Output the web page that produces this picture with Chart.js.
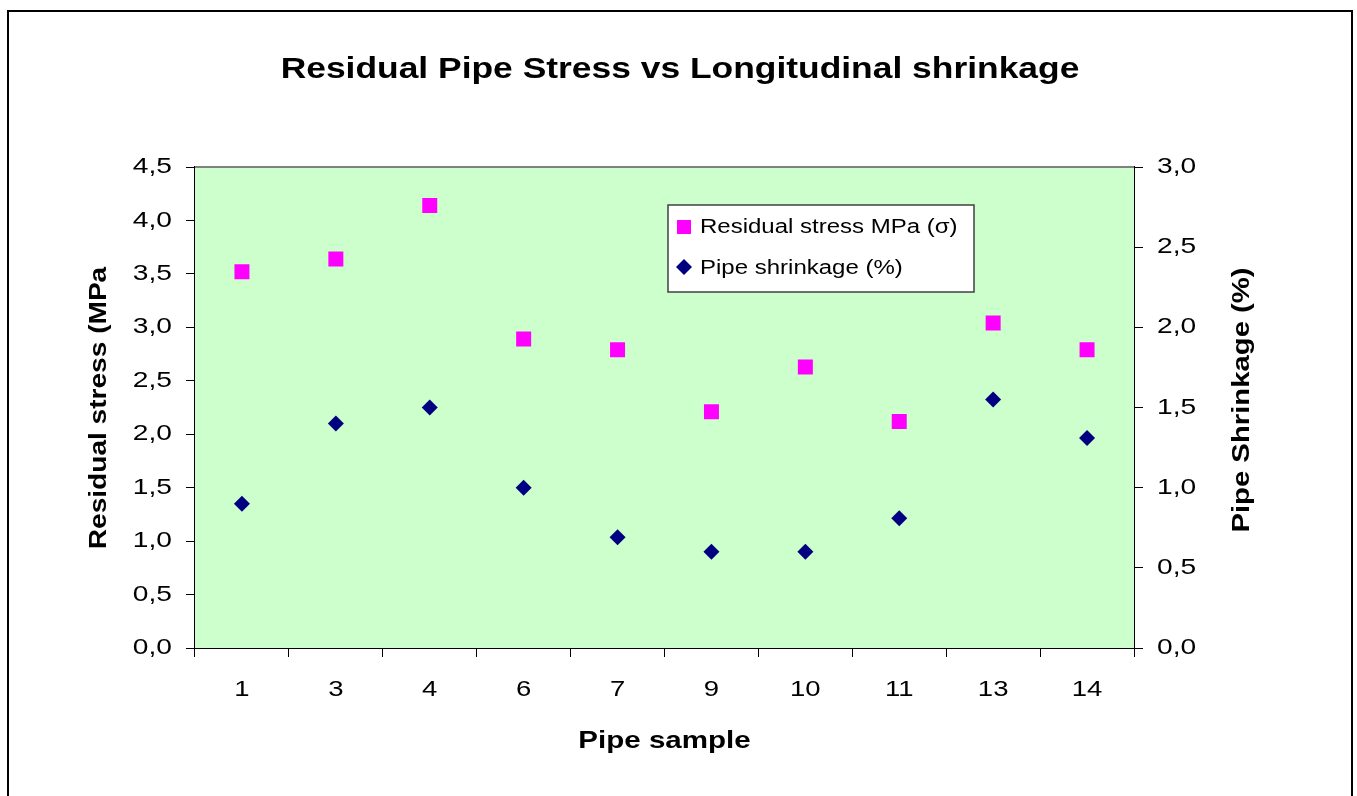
<!DOCTYPE html>
<html>
<head>
<meta charset="utf-8">
<script src="https://cdn.jsdelivr.net/npm/chart.js@4/dist/chart.umd.min.js"></script>
<style>
  html, body { margin: 0; padding: 0; background: #fff; }
  #wrap { width: 1357px; height: 796px; position: relative; }
</style>
</head>
<body>
<div id="wrap"><canvas id="myChart" width="1357" height="796"></canvas></div>
<script>
// Data
var samples = ["1", "3", "4", "6", "7", "9", "10", "11", "13", "14"];
var residualStress = [3.52, 3.64, 4.14, 2.89, 2.79, 2.21, 2.63, 2.12, 3.04, 2.79];
var pipeShrinkage = [0.90, 1.40, 1.50, 1.00, 0.69, 0.60, 0.60, 0.81, 1.55, 1.31];

var chartTitle = "Residual Pipe Stress vs Longitudinal shrinkage";
var stressLabel = "Residual stress MPa (σ)";
var shrinkLabel = "Pipe shrinkage (%)";

var FONT = "Arial, 'Liberation Sans', sans-serif";

function commaFmt(v) {
  return Number(v).toFixed(1).replace(".", ",");
}

// the original text is drawn a bit wider than Arial, so stretch it sideways
function wideText(ctx, text, x, y, align, sx, angle) {
  ctx.save();
  ctx.translate(x, y);
  if (angle) ctx.rotate(angle);
  ctx.scale(sx, 1);
  ctx.textAlign = align;
  ctx.textBaseline = "middle";
  ctx.fillText(text, 0, 0);
  ctx.restore();
}

// green plot area, outer frame, titles, tick labels and the boxed legend
var decorations = {
  id: "decorations",
  beforeDatasetsDraw: function (chart) {
    var ctx = chart.ctx;
    var a = chart.chartArea;
    ctx.save();
    ctx.fillStyle = "#CCFFCC";
    ctx.fillRect(a.left, a.top, a.right - a.left, a.bottom - a.top);
    ctx.strokeStyle = "#808080";
    ctx.lineWidth = 2;
    ctx.beginPath();
    ctx.moveTo(a.left, a.top);
    ctx.lineTo(a.right, a.top);
    ctx.stroke();
    ctx.restore();
  },
  afterDraw: function (chart) {
    var ctx = chart.ctx;
    var a = chart.chartArea;
    ctx.save();

    // outer frame
    ctx.strokeStyle = "#000";
    ctx.lineWidth = 2;
    ctx.strokeRect(8, 11, 1344, 800);

    ctx.fillStyle = "#000";

    // chart title
    ctx.font = "bold 30px " + FONT;
    wideText(ctx, chartTitle, 680, 70, "center", 1.18);

    // tick labels, taken from the library's scales
    ctx.font = "22px " + FONT;
    var sy = chart.scales.y, sy1 = chart.scales.y1, sx = chart.scales.x;
    sy.ticks.forEach(function (t, i) {
      wideText(ctx, commaFmt(t.value), 172, sy.getPixelForTick(i), "right", 1.28);
    });
    sy1.ticks.forEach(function (t, i) {
      wideText(ctx, commaFmt(t.value), 1157, sy1.getPixelForTick(i), "left", 1.28);
    });
    sx.ticks.forEach(function (t, i) {
      wideText(ctx, samples[t.value], sx.getPixelForTick(i), 690, "center", 1.25);
    });

    // axis titles
    ctx.font = "bold 24px " + FONT;
    wideText(ctx, "Pipe sample", (a.left + a.right) / 2, 741, "center", 1.23);
    wideText(ctx, "Residual stress (MPa", 99, 408, "center", 1.17, -Math.PI / 2);
    wideText(ctx, "Pipe Shrinkage (%)", 1242, 400, "center", 1.22, -Math.PI / 2);

    // legend box
    var lx = 668, ly = 205, lw = 306, lh = 87;
    ctx.fillStyle = "#fff";
    ctx.fillRect(lx, ly, lw, lh);
    ctx.strokeStyle = "#404040";
    ctx.lineWidth = 1.5;
    ctx.strokeRect(lx, ly, lw, lh);

    ctx.fillStyle = "#FF00FF";
    ctx.fillRect(lx + 9, ly + 15, 14, 14);
    ctx.fillStyle = "#000080";
    ctx.beginPath();
    ctx.moveTo(lx + 16, ly + 54);
    ctx.lineTo(lx + 24, ly + 62);
    ctx.lineTo(lx + 16, ly + 70);
    ctx.lineTo(lx + 8, ly + 62);
    ctx.closePath();
    ctx.fill();

    ctx.fillStyle = "#000";
    ctx.font = "20px " + FONT;
    wideText(ctx, stressLabel, lx + 32, ly + 22, "left", 1.2);
    wideText(ctx, shrinkLabel, lx + 32, ly + 63, "left", 1.2);

    ctx.restore();
  }
};

var ctx = document.getElementById("myChart").getContext("2d");

var myChart = new Chart(ctx, {
  type: "line",
  data: {
    labels: samples,
    datasets: [
      {
        label: stressLabel,
        data: residualStress,
        yAxisID: "y",
        showLine: false,
        pointStyle: "rect",
        pointRadius: 10.6,
        pointHoverRadius: 10.6,
        backgroundColor: "#FF00FF",
        borderColor: "#FF00FF",
        pointBorderWidth: 0
      },
      {
        label: shrinkLabel,
        data: pipeShrinkage,
        yAxisID: "y1",
        showLine: false,
        pointStyle: "rectRot",
        pointRadius: 8,
        pointHoverRadius: 8,
        backgroundColor: "#000080",
        borderColor: "#000080",
        pointBorderWidth: 0
      }
    ]
  },
  options: {
    responsive: false,
    animation: false,
    layout: { padding: { top: 167 } },
    plugins: {
      legend: { display: false },
      tooltip: { enabled: false },
      title: { display: false }
    },
    scales: {
      x: {
        offset: true,
        grid: {
          offset: true,
          drawOnChartArea: false,
          drawTicks: true,
          tickLength: 9,
          color: "#000",
          lineWidth: 1
        },
        border: { color: "#000", width: 2 },
        ticks: {
          color: "rgba(0,0,0,0)",
          padding: 20,
          maxRotation: 0,
          font: { family: FONT, size: 22 }
        },
        afterFit: function (scale) { scale.height = 148; }
      },
      y: {
        position: "left",
        min: 0,
        max: 4.5,
        grid: {
          drawOnChartArea: false,
          drawTicks: true,
          tickLength: 9,
          color: "#000"
        },
        border: { color: "#000", width: 2 },
        ticks: {
          stepSize: 0.5,
          color: "rgba(0,0,0,0)",
          padding: 13,
          font: { family: FONT, size: 22 },
          callback: function (v) { return commaFmt(v); }
        },
        afterFit: function (scale) { scale.width = 195; }
      },
      y1: {
        position: "right",
        min: 0,
        max: 3.0,
        grid: {
          drawOnChartArea: false,
          drawTicks: true,
          tickLength: 9,
          color: "#000"
        },
        border: { color: "#000", width: 2 },
        ticks: {
          stepSize: 0.5,
          color: "rgba(0,0,0,0)",
          padding: 12,
          font: { family: FONT, size: 22 },
          callback: function (v) { return commaFmt(v); }
        },
        afterFit: function (scale) { scale.width = 223; }
      }
    }
  },
  plugins: [decorations]
});
</script>
</body>
</html>
